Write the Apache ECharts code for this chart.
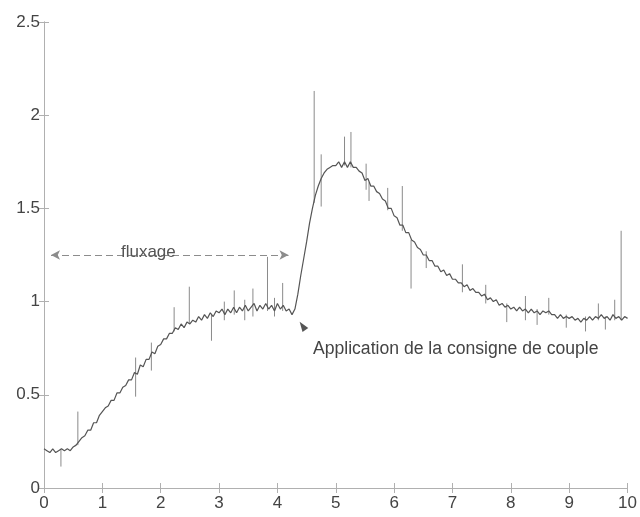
<!DOCTYPE html>
<html>
<head>
<meta charset="utf-8">
<script src="https://cdn.jsdelivr.net/npm/echarts@6/dist/echarts.min.js"></script>
<style>
html,body{margin:0;padding:0;background:#fff;}
#c{width:640px;height:517px;}
</style>
</head>
<body>
<div id="c"></div>
<script>
// Sample step of the recorded signal (s)
const xStep = 0.05;
// Main signal values, x = 0 .. 10 every 0.05
const signalValues = [
  0.21,0.20,0.19,0.21,0.19,0.20,0.21,0.20,0.21,0.20,0.22,0.23,0.25,0.27,0.28,0.31,0.31,0.35,0.35,0.39,
  0.41,0.43,0.44,0.47,0.47,0.51,0.51,0.54,0.55,0.58,0.58,0.62,0.61,0.66,0.65,0.69,0.69,0.73,0.72,0.76,
  0.77,0.80,0.80,0.83,0.83,0.86,0.85,0.88,0.86,0.89,0.88,0.90,0.89,0.92,0.90,0.93,0.91,0.94,0.92,0.95,
  0.94,0.96,0.93,0.96,0.94,0.97,0.94,0.97,0.95,0.98,0.95,0.97,0.99,0.95,0.98,0.96,0.99,0.96,0.98,0.95,
  0.99,0.96,0.98,0.95,0.96,0.93,0.96,1.04,1.14,1.23,1.32,1.42,1.50,1.57,1.62,1.66,1.69,1.71,1.72,1.73,
  1.73,1.75,1.72,1.75,1.72,1.75,1.72,1.72,1.70,1.69,1.65,1.66,1.62,1.62,1.59,1.58,1.55,1.54,1.50,1.50,
  1.46,1.45,1.41,1.41,1.37,1.37,1.33,1.32,1.29,1.28,1.25,1.25,1.22,1.22,1.19,1.19,1.16,1.17,1.14,1.15,
  1.12,1.12,1.10,1.10,1.08,1.09,1.06,1.07,1.05,1.05,1.03,1.04,1.01,1.02,1.00,1.01,0.98,0.99,0.97,0.98,
  0.96,0.97,0.95,0.97,0.95,0.96,0.94,0.96,0.94,0.95,0.93,0.95,0.94,0.95,0.93,0.93,0.91,0.93,0.91,0.92,
  0.91,0.92,0.90,0.91,0.89,0.91,0.90,0.92,0.90,0.92,0.91,0.93,0.91,0.92,0.90,0.93,0.91,0.92,0.90,0.92,0.91
];
// Isolated spikes: position, low end, high end
const spikeX  = [0.29, 0.58, 1.57, 1.84, 2.23, 2.49, 2.87, 3.09, 3.26, 3.44, 3.58, 3.83, 3.95, 4.09, 4.63, 4.75, 5.15, 5.26, 5.52, 5.57, 5.89, 6.14, 6.29, 6.55, 7.17, 7.57, 7.93, 8.25, 8.45, 8.65, 8.95, 9.28, 9.50, 9.62, 9.78, 9.89];
const spikeLo = [0.115,0.23, 0.49, 0.63, 0.84, 0.88, 0.79, 0.90, 0.93, 0.90, 0.92, 0.95, 0.92, 0.95, 1.53, 1.51, 1.73, 1.72, 1.60, 1.54, 1.49, 1.38, 1.07, 1.18, 1.05, 0.99, 0.89, 0.90, 0.875,0.93, 0.86, 0.84, 0.90, 0.85, 0.90, 0.90];
const spikeHi = [0.21, 0.41, 0.70, 0.78, 0.97, 1.08, 0.93, 1.00, 1.06, 1.01, 1.07, 1.24, 1.02, 1.10, 2.13, 1.79, 1.885,1.91, 1.74, 1.64, 1.61, 1.62, 1.33, 1.27, 1.20, 1.09, 0.99, 1.03, 0.96, 1.02, 0.93, 0.92, 0.99, 0.92, 1.01, 1.38];
// Axis ticks
const xTicks = [0,1,2,3,4,5,6,7,8,9,10];
const yTicks = ['0','0.5','1','1.5','2','2.5'];
// Annotations
const fluxStart = [0.12, 1.25];
const fluxEnd = [4.19, 1.25];
const fluxLabel = 'fluxage';
const fluxLabelPos = [1.31, 1.265];
const applyLabel = 'Application de la consigne de couple';
const applyLabelPos = [4.6, 0.743];
const applyArrowPos = [4.43, 0.87];

const signal = signalValues.map((v, i) => [+(i * xStep).toFixed(2), v]);
const spikes = spikeX.map((x, i) => [x, spikeLo[i], spikeHi[i]]);

const chart = echarts.init(document.getElementById('c'), null, {renderer: 'canvas'});
const font = 'Liberation Sans, Arial, Helvetica, sans-serif';
const axisCommon = {
  type: 'value',
  axisLine: {show: true, lineStyle: {color: '#b0b0b0', width: 1}},
  axisTick: {show: true, inside: true, length: 5, lineStyle: {color: '#b0b0b0'}},
  splitLine: {show: false}
};
chart.setOption({
  animation: false,
  backgroundColor: '#fff',
  grid: {left: 44, right: 11, top: 22, bottom: 29, containLabel: false},
  xAxis: [
    Object.assign({}, axisCommon, {min: xTicks[0], max: xTicks[xTicks.length-1], interval: 1, position: 'bottom',
      axisLabel: {color: '#444', fontSize: 17, fontFamily: font, margin: 7}}),
    Object.assign({}, axisCommon, {min: xTicks[0], max: xTicks[xTicks.length-1], interval: 1, position: 'top',
      axisLabel: {show: false}})
  ],
  yAxis: [
    Object.assign({}, axisCommon, {min: 0, max: 2.5, interval: 0.5, position: 'left',
      axisLabel: {color: '#444', fontSize: 17, fontFamily: font, margin: 4,
        formatter: v => yTicks.find(t => Math.abs(parseFloat(t) - v) < 1e-9) || ''}}),
    Object.assign({}, axisCommon, {min: 0, max: 2.5, interval: 0.5, position: 'right',
      axisLabel: {show: false}})
  ],
  series: [
    {
      type: 'custom',
      name: 'spikes',
      xAxisIndex: 0, yAxisIndex: 0,
      data: spikes,
      encode: {x: 0, y: [1, 2]},
      silent: true,
      renderItem: function (params, api) {
        const p1 = api.coord([api.value(0), api.value(1)]);
        const p2 = api.coord([api.value(0), api.value(2)]);
        return {type: 'line', shape: {x1: p1[0], y1: p1[1], x2: p2[0], y2: p2[1]},
          style: {stroke: '#8a8a8a', lineWidth: 1}};
      },
      z: 2
    },
    {
      type: 'line',
      name: 'signal',
      xAxisIndex: 0, yAxisIndex: 0,
      data: signal,
      showSymbol: false,
      symbol: 'none',
      lineStyle: {color: '#555', width: 1.2},
      z: 3,
      markLine: {
        silent: true,
        symbol: ['arrow', 'arrow'],
        symbolSize: [7, 9],
        lineStyle: {color: '#8c8c8c', width: 1, type: [7, 4]},
        itemStyle: {color: '#777'},
        label: {show: false},
        data: [[{coord: fluxStart}, {coord: fluxEnd}]]
      },
      markPoint: {
        silent: true,
        data: [
          {coord: fluxLabelPos, symbol: 'circle', symbolSize: 1, itemStyle: {color: 'rgba(0,0,0,0)'},
           label: {show: true, position: 'right', distance: 0, formatter: fluxLabel, color: '#555', fontSize: 17, fontFamily: font}},
          {coord: applyLabelPos, symbol: 'circle', symbolSize: 1, itemStyle: {color: 'rgba(0,0,0,0)'},
           label: {show: true, position: 'right', distance: 0, formatter: applyLabel, color: '#444', fontSize: 17.6, fontFamily: font}},
          {coord: applyArrowPos, symbol: 'triangle', symbolSize: [7, 10], symbolRotate: 35, itemStyle: {color: '#555'},
           label: {show: false}}
        ]
      }
    }
  ]
});
</script>
</body>
</html>
